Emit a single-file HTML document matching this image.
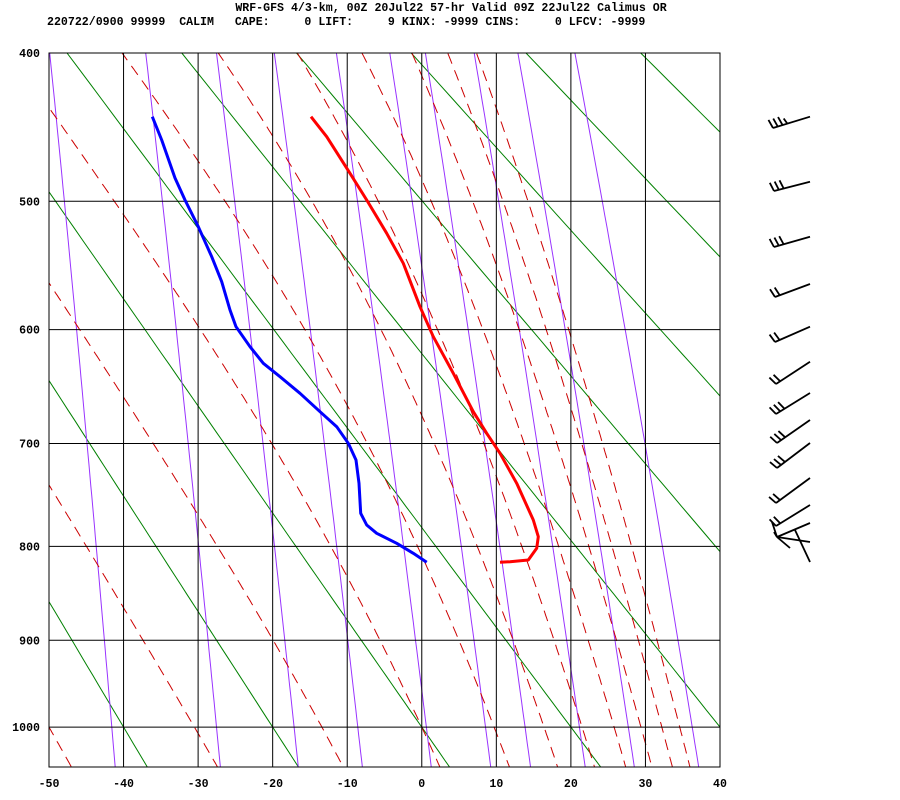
<!DOCTYPE html>
<html><head><meta charset="utf-8"><style>
html,body{margin:0;padding:0;background:#fff;width:900px;height:800px;overflow:hidden}
svg{display:block}
text{font-family:"Liberation Mono",monospace;font-weight:bold;font-size:11.6px;fill:#000}
</style></head><body>
<svg id="s" width="900" height="800" xmlns="http://www.w3.org/2000/svg">
<defs><clipPath id="c"><rect x="49" y="53" width="671" height="714"/></clipPath></defs>
<rect width="900" height="800" fill="#fff"/>
<text x="451" y="11" text-anchor="middle">WRF-GFS 4/3-km, 00Z 20Jul22 57-hr Valid 09Z 22Jul22 Calimus OR</text>
<text x="47" y="25" xml:space="preserve">220722/0900 99999  CALIM   CAPE:     0 LIFT:     9 KINX: -9999 CINS:     0 LFCV: -9999</text>
<g id="bg" clip-path="url(#c)"></g>
<g id="fg"></g>
</svg>
<script>
var NS="http://www.w3.org/2000/svg";
function X(t){return 49+(t+50)*671/90;}
function Y(p){return 53+405.5*(Math.pow(p,0.286)-Math.pow(400,0.286));}
function el(par,tag,a){var e=document.createElementNS(NS,tag);for(var k in a)e.setAttribute(k,a[k]);par.appendChild(e);return e;}
var bg=document.getElementById('bg'),fg=document.getElementById('fg');
function poly(par,pts,st,w,dash){var d=pts.map(function(q){return q[0].toFixed(1)+','+q[1].toFixed(1);}).join(' ');
var a={points:d,fill:'none',stroke:st,'stroke-width':w,'stroke-linejoin':'round'};if(dash)a['stroke-dasharray']=dash;el(par,'polyline',a);}
var PB=1050;
for(var th=-40;th<=160;th+=20){var pts=[];for(var p=380;p<=PB;p+=10){pts.push([X((th+273.15)*Math.pow(p/1000,0.286)-273.15),Y(p)]);}poly(bg,pts,'#008000',1);}
[0.1,0.4,1,2,4,7,10,16,24,40].forEach(function(w){var pts=[];for(var p=390;p<=PB;p+=10){var e=w*p/(622+w);var l=Math.log(e/6.112);pts.push([X(243.5*l/(17.67-l)),Y(p)]);}poly(bg,pts,'#9933ff',1);});
function es(t){return 6.112*Math.exp(17.67*t/(t+243.5));}
function dTdp(t,p){var tk=t+273.15,r=0.622*es(t)/(p-es(t));return (287*tk+2.5e6*r)/(p*(1004+2.5e6*2.5e6*r*0.622/(287*tk*tk)));}
[-50,-30.5,-13.4,0,9.7,16.4,21.5,25.8,29.4,32.2,34.6].forEach(function(t0){
var up=[],t=t0,p;for(p=1000;p>=390;p-=2){up.push([X(t),Y(p)]);t-=dTdp(t,p)*2;}
var dn=[];t=t0;for(p=1000;p<=PB;p+=2){dn.push([X(t),Y(p)]);t+=dTdp(t,p)*2;}
poly(bg,up.reverse().concat(dn),'#cc0000',1,'11,7');});
[400,500,600,700,800,900,1000].forEach(function(p){el(fg,'line',{x1:49,x2:720,y1:Y(p),y2:Y(p),stroke:'#000','stroke-width':1});
var t=el(fg,'text',{x:40,y:Y(p)+4,'text-anchor':'end'});t.textContent=p;});
for(var T=-50;T<=40;T+=10){el(fg,'line',{x1:X(T),x2:X(T),y1:53,y2:767,stroke:'#000','stroke-width':1});
var t=el(fg,'text',{x:X(T),y:787,'text-anchor':'middle'});t.textContent=T;}
el(fg,'rect',{x:49,y:53,width:671,height:714,fill:'none',stroke:'#000','stroke-width':1});
poly(fg,[[152.3,116.7],[161.7,140],[175,178],[185,200],[198.3,226.7],[211.7,256.7],[221.7,281.7],[230,310],[236,326.7],[250,346.7],[263.3,363.3],[280,376.7],[300,393.3],[320,411.7],[336.7,426.7],[348.3,443.3],[356,460],[359,483.3],[360.7,513.3],[366.7,525],[376.7,533.3],[396.7,543.3],[413.3,553.3],[426.7,562.3]],'#0000ff',3);
poly(fg,[[311,116.7],[326.7,136.7],[350,173.3],[366.7,200],[386.7,233.3],[403.3,263.3],[420,306.7],[433.3,336.7],[453.3,373.3],[473.3,411.7],[486.7,433.3],[500,453.3],[516.7,483.3],[533.3,520],[538.3,536.7],[536.7,548.3],[528.3,560],[510,561.7],[500,562.3]],'#ff0000',3);
function barb(bx,by,tx,ty,n){el(fg,'line',{x1:bx,y1:by,x2:tx,y2:ty,stroke:'#000','stroke-width':1.8});
var dx=bx-tx,dy=by-ty,L=Math.sqrt(dx*dx+dy*dy);dx/=L;dy/=L;
for(var i=0;i<n;i++){var px=tx+dx*i*5,py=ty+dy*i*5;var len=(i==n-1&&n>3)?6:9;
el(fg,'line',{x1:px,y1:py,x2:px-dx*2+dy*len,y2:py-dy*2-dx*len,stroke:'#000','stroke-width':1.8});}}
barb(810,116.7,773,128,4);barb(810,181.7,774,191,3);barb(810,236.7,774,247,3);barb(810,284,775,297,2);barb(810,326.7,775,342,2);
barb(810,361.7,776,384,2);barb(810,393,776,414,3);barb(810,420,777,443,3);barb(810,443,777,468,3);barb(810,478,776,503,2);barb(810,505,776,526,2);
[[772,522,777,537],[777,537,810,523],[777,537,810,542],[795,530,810,562],[777,537,790,548],[777,537,774,532]].forEach(function(l){el(fg,'line',{x1:l[0],y1:l[1],x2:l[2],y2:l[3],stroke:'#000','stroke-width':1.8});});
</script>
</body></html>
